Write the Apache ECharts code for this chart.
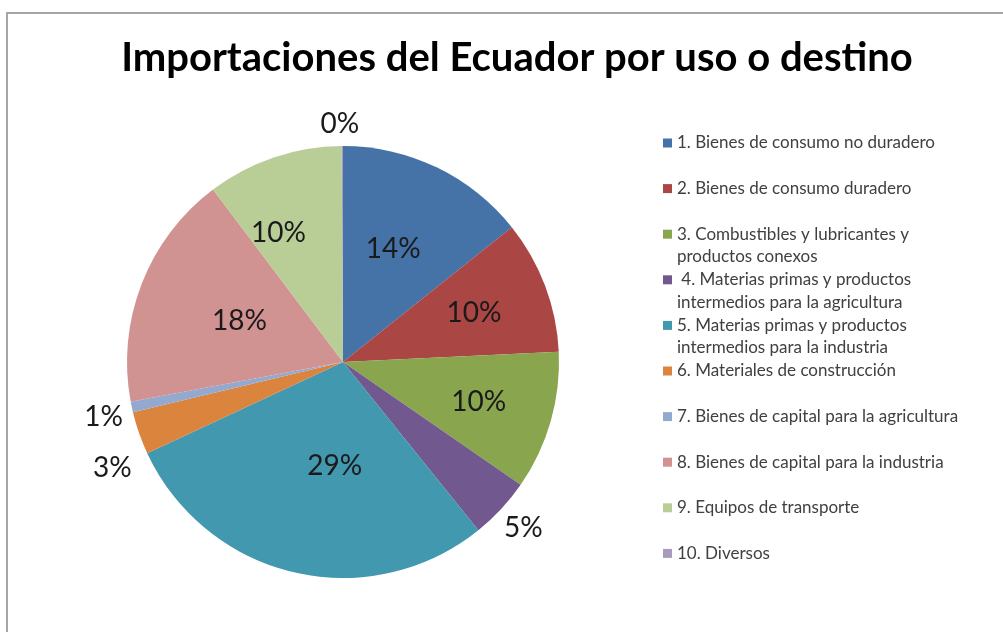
<!DOCTYPE html>
<html>
<head>
<meta charset="utf-8">
<title>Importaciones del Ecuador</title>
<script src="https://cdn.jsdelivr.net/npm/echarts@6/dist/echarts.min.js"></script>
<style>
  html, body { margin: 0; padding: 0; background: #fff; }
  #chart { width: 1003px; height: 632px; }
</style>
</head>
<body>
<div id="chart"></div>
<script>
// categories (legend text as shown in the chart)
const categories = [
  '1. Bienes de consumo no duradero',
  '2. Bienes de consumo duradero',
  '3. Combustibles y lubricantes y\nproductos conexos',
  ' 4. Materias primas y productos\nintermedios para la agricultura',
  '5. Materias primas y productos\nintermedios para la industria',
  '6. Materiales de construcción',
  '7. Bienes de capital para la agricultura',
  '8. Bienes de capital para la industria',
  '9. Equipos de transporte',
  '10. Diversos'
];
// share of each group (in %)
const shares = [14.3, 10.0, 10.4, 4.6, 28.9, 3.2, 0.8, 17.7, 10.2, 0.1];
const colors = ['#4572A7', '#AA4643', '#89A54E', '#71588F', '#4198AF',
                '#DB843D', '#93A9CF', '#D19392', '#B9CD96', '#A99BBD'];
// slices whose label sits outside the pie
const outsideLabels = [3, 5, 6, 9];
// small label nudges (px) to mimic the original "best fit" placement
const labelNudge = [[2, -13], [27, -10], [29, 9], [-11, 11], [17, -4],
                    [9, 28], [5, 7], [0, -1], [-29, -24], [22, -10]];

const chart = echarts.init(document.getElementById('chart'));

const pieData = categories.map((name, i) => {
  const item = { name: name, value: shares[i], itemStyle: { color: colors[i] } };
  if (outsideLabels.includes(i)) {
    item.label = { position: 'outside' };
  }
  return item;
});

// one legend block per entry so every row keeps the same pitch
const legends = categories.map((name, i) => {
  const multi = name.indexOf('\n') >= 0;
  const cy = 143 + i * 45.6;
  const lh = 22.5;
  return {
    data: [name],
    orient: 'vertical',
    left: 663,
    top: cy - (multi ? lh * 1.5 : lh / 2),
    padding: 0,
    icon: 'rect',
    itemWidth: 9,
    itemHeight: 9,
    itemGap: 0,
    selectedMode: false,
    formatter: n => (n.indexOf('\n') >= 0 ? '\n' + n : n),
    textStyle: {
      fontFamily: 'Lato',
      fontSize: 17,
      lineHeight: lh,
      color: '#404040'
    }
  };
});

const option = {
  backgroundColor: '#fff',
  animation: false,
  title: {
    text: 'Importaciones del Ecuador por uso o destino',
    left: 512,
    textAlign: 'center',
    top: 33,
    textStyle: {
      fontFamily: 'Lato',
      fontSize: 40,
      fontWeight: 'bold',
      color: '#000'
    }
  },
  legend: legends,
  graphic: [{
    type: 'rect',
    shape: { x: 7, y: 13, width: 1100, height: 700 },
    style: { fill: 'none', stroke: '#a6a6a6', lineWidth: 2 },
    silent: true
  }],
  series: [{
    type: 'pie',
    center: [343, 362],
    radius: 216,
    startAngle: 90,
    clockwise: true,
    avoidLabelOverlap: true,
    itemStyle: { borderWidth: 0 },
    label: {
      position: 'inside',
      fontFamily: 'Lato',
      fontSize: 28,
      color: '#1a1a1a',
      formatter: p => Math.round(p.percent) + '%'
    },
    labelLine: { show: false, length: 12, length2: 0 },
    labelLayout: params => {
      const d = labelNudge[params.dataIndex];
      return { dx: d[0], dy: d[1] };
    },
    emphasis: { disabled: true },
    data: pieData
  }]
};

chart.setOption(option);
</script>
</body>
</html>
